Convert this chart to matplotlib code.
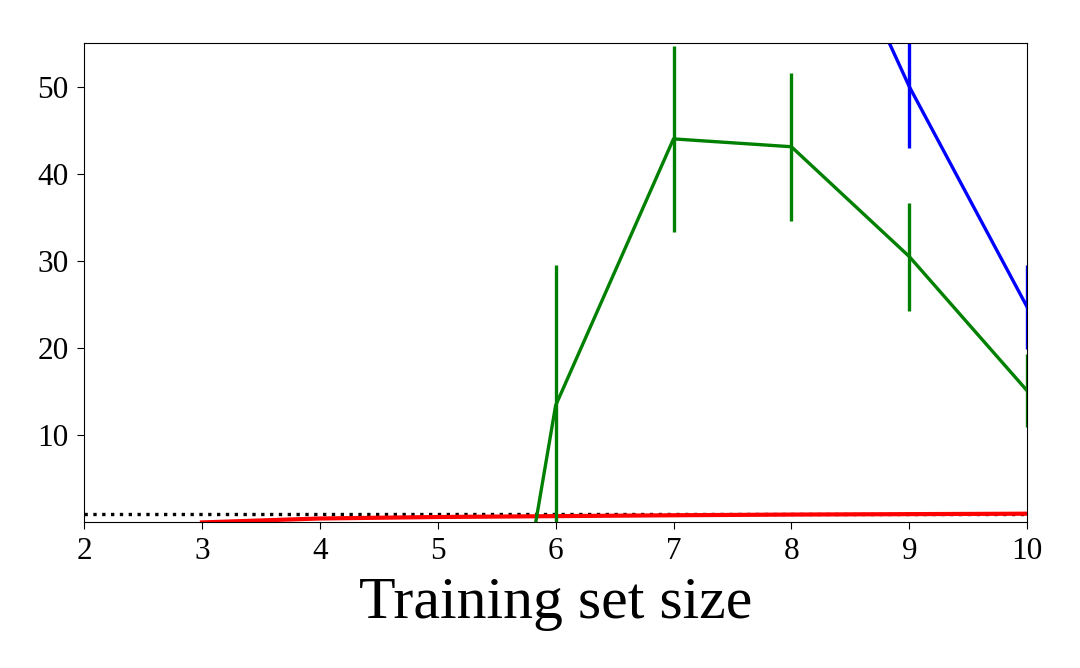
#!/usr/bin/env python3
"""Error-bar trend of three methods vs training set size."""

import matplotlib
matplotlib.use('Agg')
import matplotlib.pyplot as plt
import numpy as np

# data
x_red = [3, 4, 5, 6, 7, 8, 9, 10]
y_red = [0.0, 0.45, 0.62, 0.72, 0.82, 0.9, 0.95, 1.0]

x_green = [5, 6, 7, 8, 9, 10]
y_green = [-66.0, 13.4, 44.0, 43.1, 30.5, 15.1]
e_green = [20.0, 16.1, 10.7, 8.5, 6.2, 4.2]

x_blue = [8, 9, 10]
y_blue = [79.5, 50.0, 24.7]
e_blue = [9.0, 7.1, 4.8]

baseline = 1.0
y_ticks = [10, 20, 30, 40, 50]


def plot_graph(output_file):
    plt.rcParams['font.family'] = ['Liberation Serif', 'DejaVu Serif']
    fig = plt.figure(figsize=(10.8, 6.68), dpi=100)
    ax1 = fig.add_axes([0.0778, 0.2186, 0.8733, 0.717])
    lw = 2.4
    ax1.axhline(baseline, color='k', linestyle=':', linewidth=lw)
    ax1.plot(x_red, y_red, color='red', linewidth=lw + 0.6)
    ax1.errorbar(x_green, y_green, yerr=e_green, color='green', linewidth=lw, elinewidth=lw)
    ax1.errorbar(x_blue, y_blue, yerr=e_blue, color='blue', linewidth=lw, elinewidth=lw)
    ax1.set_xlim(2, 10)
    ax1.set_ylim(0.05, 55)
    ax1.set_yticks(y_ticks)
    ax1.tick_params(labelsize=22.5, length=5, pad=6)
    ax1.set_xlabel("Training set size", fontsize=43, labelpad=8)
    plt.savefig(fname=output_file, format='png', dpi=100)


if __name__ == "__main__":
    plot_graph('out.png')
